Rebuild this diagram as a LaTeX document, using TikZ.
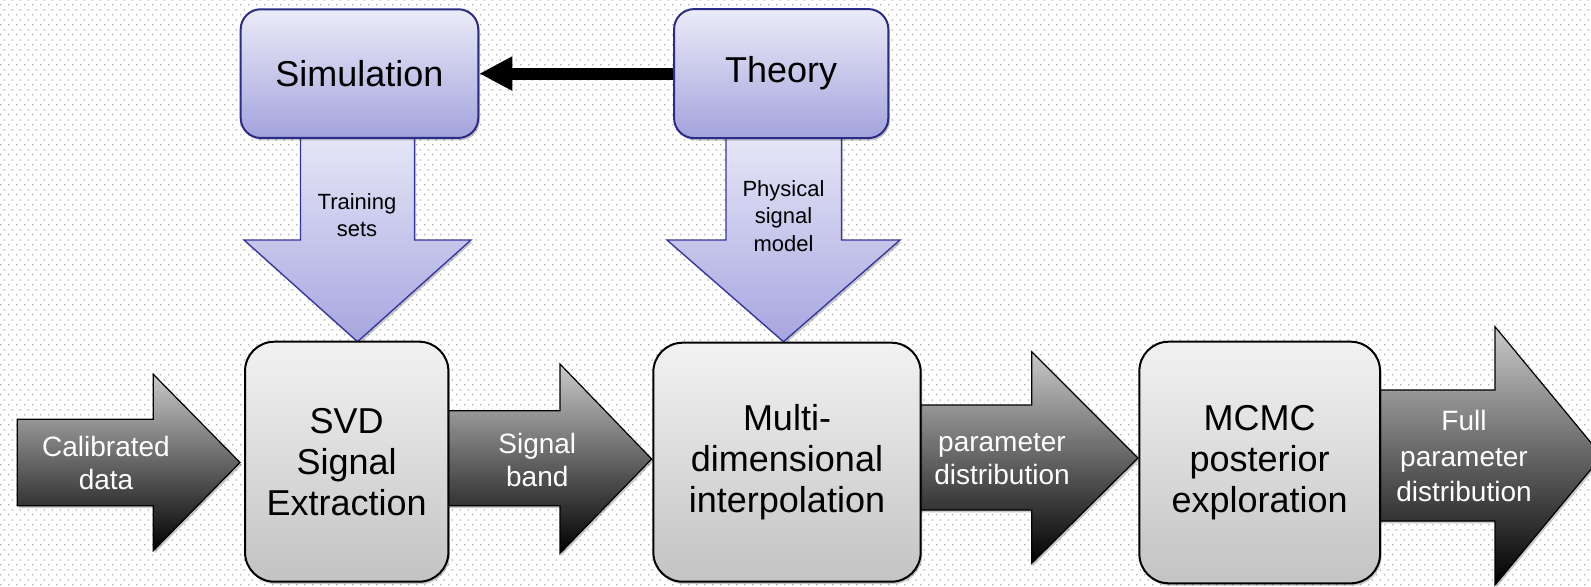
\documentclass[tikz,border=0pt]{standalone}
\usepackage{fontspec}
\setmainfont{Liberation Sans}
\usetikzlibrary{arrows.meta,patterns,shadows}
\pgfdeclarepatternformonly{bgdots}{\pgfpointorigin}{\pgfpoint{6pt}{7.6pt}}{\pgfpoint{6pt}{7.6pt}}{%
  \pgfpathcircle{\pgfpoint{1.5pt}{1.9pt}}{0.72pt}%
  \pgfpathcircle{\pgfpoint{4.5pt}{5.7pt}}{0.72pt}%
  \pgfusepath{fill}}
\pgfdeclarelayer{back}
\pgfdeclarelayer{mid}
\pgfsetlayers{back,mid,main}
\definecolor{lavT}{HTML}{EBEBF8}
\definecolor{lavB}{HTML}{A3A3DD}
\definecolor{navyline}{HTML}{2B2B88}
\definecolor{arrT}{HTML}{E8E8F8}
\definecolor{arrB}{HTML}{A6A6E0}
\definecolor{arrline}{HTML}{3535A0}
\definecolor{boxT}{HTML}{F2F2F2}
\definecolor{boxB}{HTML}{C3C3C3}
\definecolor{dotgray}{HTML}{AFAFAF}
\tikzset{
  softshadow/.style={drop shadow={shadow xshift=1.2pt, shadow yshift=-1.8pt, opacity=0.22, fill=black}},
  topbox/.style={draw=navyline, line width=1.5pt, rounded corners=15pt, top color=lavT, bottom color=lavB,
    inner sep=0pt, align=center, font=\fontsize{27}{31}\selectfont, softshadow},
  botbox/.style={draw=black, line width=1.5pt, rounded corners=22pt, top color=boxT, bottom color=boxB,
    inner sep=0pt, align=center, font=\fontsize{27}{30.75}\selectfont, softshadow},
  grayarrow/.style={draw=black, line width=0.9pt, top color=gray!42, bottom color=black, softshadow},
  lavarrowfill/.style={top color=arrT, bottom color=arrB, softshadow},
  lavarrowline/.style={draw=arrline, line width=1pt, line join=miter},
  whitelbl/.style={text=white, align=center, inner sep=0pt, font=\fontsize{21}{24.75}\selectfont},
  smalllbl/.style={text=black, align=center, inner sep=0pt, font=\fontsize{16.5}{20.7}\selectfont}
}
\begin{document}
\begin{tikzpicture}[x=0.75pt,y=-0.75pt]
\useasboundingbox (0,0) rectangle (1591,586);
\begin{pgfonlayer}{back}
  \fill[white] (0,0) rectangle (1591,586);
  \fill[pattern=bgdots, pattern color=dotgray] (0,0) rectangle (1591,586);
\end{pgfonlayer}

% boxes
\node[topbox, minimum width=178.2pt, minimum height=96.5pt] (sim) at (359.5,73.6) {Simulation};
\node[topbox, minimum width=160.7pt, minimum height=96.75pt] (theory) at (781.2,73.6) {Theory};
\node[botbox, minimum width=152.5pt, minimum height=180pt] (svd) at (346.7,461.7) {SVD\\Signal\\Extraction};
\node[botbox, minimum width=200.5pt, minimum height=179.25pt] (multi) at (787,462.2) {Multi-\\dimensional\\interpolation};
\node[botbox, minimum width=180.5pt, minimum height=181.2pt] (mcmc) at (1259.7,462.5) {MCMC\\posterior\\exploration};

% theory -> simulation
\draw[line width=9pt, -{Triangle[length=24.75pt,width=24pt]}] (theory.west) -- (sim.east);

\begin{pgfonlayer}{mid}
  \clip (0,0) rectangle (1591,586);
  % grey block arrows
  \path[grayarrow] (17.3,419.3) -- (153.3,419.3) -- (153.3,374.3) -- (240,462.5) -- (153.3,550.7) -- (153.3,505.7) -- (17.3,505.7) -- cycle;
  \path[grayarrow] (440,410.7) -- (560,410.7) -- (560,364) -- (651.7,459) -- (560,553.3) -- (560,505.7) -- (440,505.7) -- cycle;
  \path[grayarrow] (915,405) -- (1031.7,405) -- (1031.7,351.7) -- (1138,458) -- (1031.7,563.3) -- (1031.7,510) -- (915,510) -- cycle;
  \path[grayarrow] (1375,390) -- (1495,390) -- (1495,326.7) -- (1602,456) -- (1495,585) -- (1495,521) -- (1375,521) -- cycle;
  % lavender down arrows
  \path[lavarrowfill] (300.5,130) -- (300.5,240) -- (244,240) -- (357.5,341.7) -- (471,240) -- (414.5,240) -- (414.5,130) -- cycle;
  \draw[lavarrowline] (300.5,138) -- (300.5,240) -- (244,240) -- (357.5,341.7) -- (471,240) -- (414.5,240) -- (414.5,138);
  \path[lavarrowfill] (726,130) -- (726,240) -- (667,240) -- (783.5,341.7) -- (900,240) -- (841.5,240) -- (841.5,130) -- cycle;
  \draw[lavarrowline] (726,138) -- (726,240) -- (667,240) -- (783.5,341.7) -- (900,240) -- (841.5,240) -- (841.5,138);
\end{pgfonlayer}

% arrow labels
\node[whitelbl] (lcalib) at (106,463) {Calibrated\\data};
\node[whitelbl] (lband) at (537.3,460) {Signal\\band};
\node[whitelbl] (lparam) at (1002,459) {parameter\\distribution};
\node[whitelbl, font=\fontsize{21}{26.5}\selectfont] (lfull) at (1464,456) {Full\\parameter\\distribution};
\node[smalllbl] (ltrain) at (357,215) {Training\\sets};
\node[smalllbl] (lphys) at (783.5,216) {Physical\\signal\\model};
\end{tikzpicture}
\end{document}
